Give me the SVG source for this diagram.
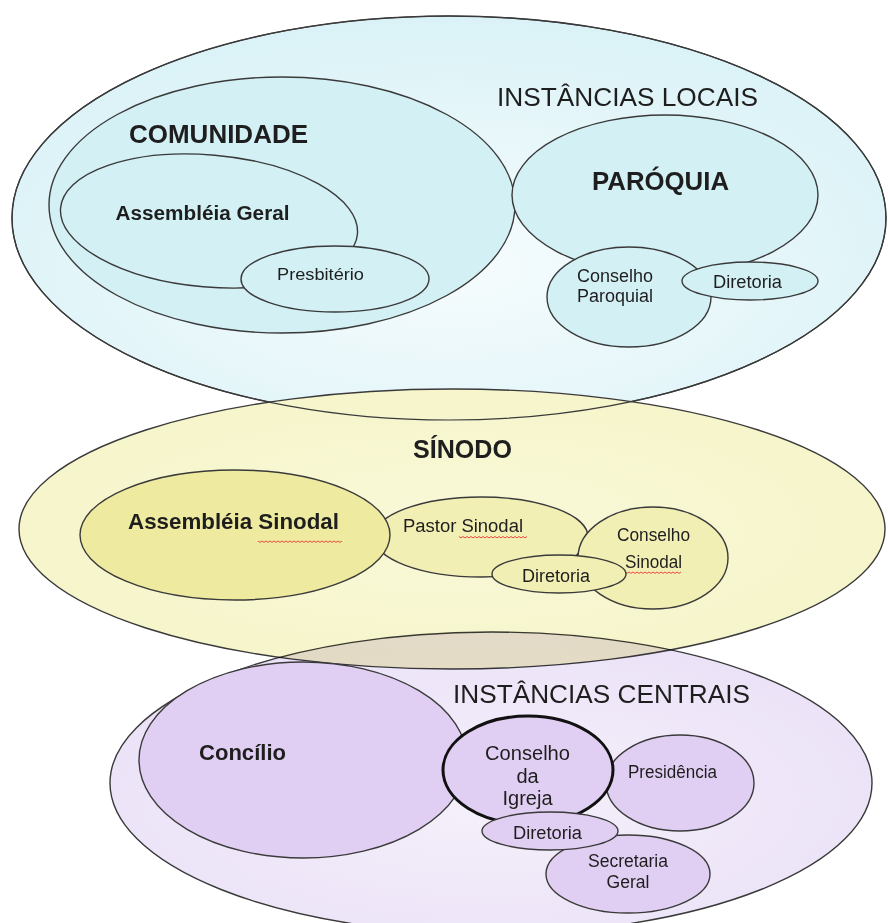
<svg xmlns="http://www.w3.org/2000/svg" width="888" height="923" viewBox="0 0 888 923">
<defs>
<radialGradient id="gTop" cx="50%" cy="62%" r="62%">
<stop offset="0" stop-color="#f6fcfd"/>
<stop offset="1" stop-color="#daf2f7"/>
</radialGradient>
<radialGradient id="gMid" cx="50%" cy="50%" r="60%">
<stop offset="0" stop-color="#f9f9d9"/>
<stop offset="1" stop-color="#f5f4c8"/>
</radialGradient>
<radialGradient id="gBot" cx="50%" cy="55%" r="60%">
<stop offset="0" stop-color="#f3edfa"/>
<stop offset="1" stop-color="#e5d9f5"/>
</radialGradient>
</defs>
<style>
.o{stroke:#3a3a3a;stroke-width:1.4}
.c{fill:#d3f0f5}
.y1{fill:#eeea9f}
.y2{fill:#f2efb4}
.p{fill:#e1cff3}
.t{font-family:"Liberation Sans",Arial,sans-serif;fill:#1e1e1e;text-anchor:middle}
.b{font-weight:bold}
.sq{fill:none;stroke:#e03a3a;stroke-width:0.9}
</style>
<rect width="888" height="923" fill="#ffffff"/>

<g id="instancias-locais">
<ellipse cx="449" cy="218" rx="437" ry="202" fill="url(#gTop)" class="o"/>
<text class="t" x="627.5" y="106" font-size="25" textLength="261" lengthAdjust="spacingAndGlyphs">INSTÂNCIAS LOCAIS</text>
</g>
<g id="comunidade">
<ellipse cx="282" cy="205" rx="233" ry="128" class="o c"/>
<text class="t b" x="218.5" y="143" font-size="25" textLength="179" lengthAdjust="spacingAndGlyphs">COMUNIDADE</text>
</g>
<g id="assembleia-geral">
<ellipse cx="209" cy="221" rx="149" ry="66" transform="rotate(5 209 221)" class="o c"/>
<text class="t b" x="202.5" y="220" font-size="19.5" textLength="174" lengthAdjust="spacingAndGlyphs">Assembléia Geral</text>
</g>
<g id="presbiterio">
<ellipse cx="335" cy="279" rx="94" ry="33" class="o c"/>
<text class="t" x="320.5" y="280" font-size="17" textLength="87" lengthAdjust="spacingAndGlyphs">Presbitério</text>
</g>
<g id="paroquia">
<ellipse cx="665" cy="195" rx="153" ry="80" class="o c"/>
<text class="t b" x="660.5" y="190" font-size="25" textLength="137" lengthAdjust="spacingAndGlyphs">PARÓQUIA</text>
</g>
<g id="conselho-paroquial">
<ellipse cx="629" cy="297" rx="82" ry="50" class="o c"/>
<text class="t" x="615" y="282" font-size="18" textLength="76" lengthAdjust="spacingAndGlyphs">Conselho</text>
<text class="t" x="615" y="302" font-size="18" textLength="76" lengthAdjust="spacingAndGlyphs">Paroquial</text>
</g>
<g id="diretoria-paroquia">
<ellipse cx="750" cy="281" rx="68" ry="19" class="o c"/>
<text class="t" x="747.5" y="288" font-size="18" textLength="69" lengthAdjust="spacingAndGlyphs">Diretoria</text>
</g>

<g id="sinodo">
<ellipse cx="452" cy="529" rx="433" ry="140" fill="url(#gMid)" class="o"/>
<ellipse cx="449" cy="218" rx="437" ry="202" fill="none" stroke="#3a3a3a" stroke-width="1.2"/>
<text class="t b" x="462.5" y="458" font-size="25" textLength="99" lengthAdjust="spacingAndGlyphs">SÍNODO</text>
</g>
<g id="pastor-sinodal">
<ellipse cx="481" cy="537" rx="107" ry="40" class="o y2"/>
<text class="t" x="403" y="532" font-size="18" textLength="120" lengthAdjust="spacingAndGlyphs" style="text-anchor:start">Pastor Sinodal</text>
<path class="sq" d="M459 536.5 l2 1.4 2 -1.4 2 1.4 2 -1.4 2 1.4 2 -1.4 2 1.4 2 -1.4 2 1.4 2 -1.4 2 1.4 2 -1.4 2 1.4 2 -1.4 2 1.4 2 -1.4 2 1.4 2 -1.4 2 1.4 2 -1.4 2 1.4 2 -1.4 2 1.4 2 -1.4 2 1.4 2 -1.4 2 1.4 2 -1.4 2 1.4 2 -1.4 2 1.4 2 -1.4 2 1.4 2 -1.4"/>
</g>
<g id="conselho-sinodal">
<ellipse cx="653" cy="558" rx="75" ry="51" class="o y2"/>
<text class="t" x="653.5" y="541" font-size="17.5" textLength="73" lengthAdjust="spacingAndGlyphs">Conselho</text>
<text class="t" x="653.5" y="568" font-size="17.5" textLength="57" lengthAdjust="spacingAndGlyphs">Sinodal</text>
<path class="sq" d="M625 572 l2 1.4 2 -1.4 2 1.4 2 -1.4 2 1.4 2 -1.4 2 1.4 2 -1.4 2 1.4 2 -1.4 2 1.4 2 -1.4 2 1.4 2 -1.4 2 1.4 2 -1.4 2 1.4 2 -1.4 2 1.4 2 -1.4 2 1.4 2 -1.4 2 1.4 2 -1.4 2 1.4 2 -1.4 2 1.4 2 -1.4"/>
</g>
<g id="assembleia-sinodal">
<ellipse cx="235" cy="535" rx="155" ry="65" class="o y1"/>
<text class="t b" x="233.5" y="529" font-size="22" textLength="211" lengthAdjust="spacingAndGlyphs">Assembléia Sinodal</text>
<path class="sq" d="M258 541 l2 1.4 2 -1.4 2 1.4 2 -1.4 2 1.4 2 -1.4 2 1.4 2 -1.4 2 1.4 2 -1.4 2 1.4 2 -1.4 2 1.4 2 -1.4 2 1.4 2 -1.4 2 1.4 2 -1.4 2 1.4 2 -1.4 2 1.4 2 -1.4 2 1.4 2 -1.4 2 1.4 2 -1.4 2 1.4 2 -1.4 2 1.4 2 -1.4 2 1.4 2 -1.4 2 1.4 2 -1.4 2 1.4 2 -1.4 2 1.4 2 -1.4 2 1.4 2 -1.4 2 1.4 2 -1.4"/>
</g>
<g id="diretoria-sinodo">
<ellipse cx="559" cy="574" rx="67" ry="19" class="o y2"/>
<text class="t" x="556" y="582" font-size="18" textLength="68" lengthAdjust="spacingAndGlyphs">Diretoria</text>
</g>

<g id="instancias-centrais">
<ellipse cx="491" cy="783" rx="381" ry="151" fill="url(#gBot)" fill-opacity="0.8" class="o" style="mix-blend-mode:multiply"/>
<text class="t" x="601.5" y="703" font-size="25" textLength="297" lengthAdjust="spacingAndGlyphs">INSTÂNCIAS CENTRAIS</text>
</g>
<g id="concilio">
<ellipse cx="303" cy="760" rx="164" ry="98" class="o p"/>
<text class="t b" x="242.5" y="760" font-size="22" textLength="87" lengthAdjust="spacingAndGlyphs">Concílio</text>
</g>
<g id="presidencia">
<ellipse cx="680" cy="783" rx="74" ry="48" class="o p"/>
<text class="t" x="672.5" y="778" font-size="17.5" textLength="89" lengthAdjust="spacingAndGlyphs">Presidência</text>
</g>
<g id="secretaria-geral">
<ellipse cx="628" cy="874" rx="82" ry="39" class="o p"/>
<text class="t" x="628" y="867" font-size="17.5" textLength="80" lengthAdjust="spacingAndGlyphs">Secretaria</text>
<text class="t" x="628" y="888" font-size="17.5" textLength="43" lengthAdjust="spacingAndGlyphs">Geral</text>
</g>
<g id="conselho-da-igreja">
<ellipse cx="528" cy="770" rx="85" ry="54" class="p" stroke="#111" stroke-width="3"/>
<text class="t" x="527.5" y="760" font-size="20" textLength="85" lengthAdjust="spacingAndGlyphs">Conselho</text>
<text class="t" x="527.5" y="783" font-size="20">da</text>
<text class="t" x="527.5" y="805" font-size="20">Igreja</text>
</g>
<g id="diretoria-central">
<ellipse cx="550" cy="831" rx="68" ry="19" class="o p"/>
<text class="t" x="547.5" y="839" font-size="18" textLength="69" lengthAdjust="spacingAndGlyphs">Diretoria</text>
</g>
</svg>
